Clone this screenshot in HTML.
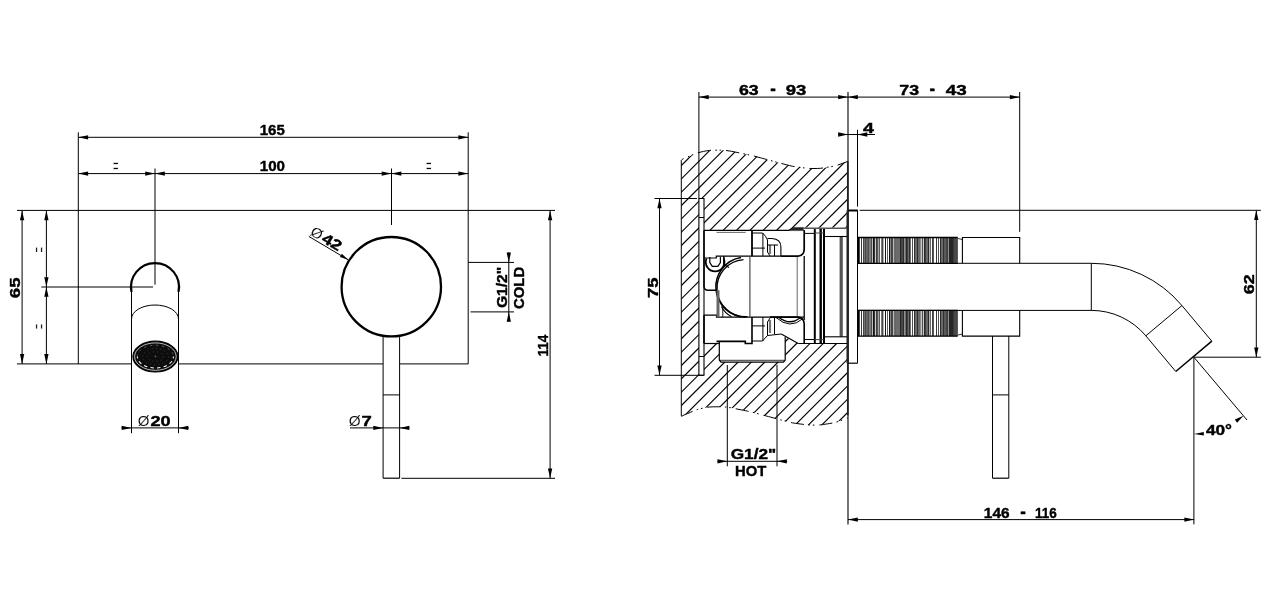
<!DOCTYPE html>
<html lang="en"><head><meta charset="utf-8"><title>Technical drawing</title>
<style>
html,body{margin:0;padding:0;background:#fff;}
body{width:1283px;height:597px;overflow:hidden;}
svg{display:block;will-change:transform;}
svg text{font-family:"Liberation Sans",sans-serif;fill:#000;}
svg .b{stroke:#000;stroke-width:0.4px;stroke-linejoin:round;}
svg .t{stroke:#fff;stroke-width:0.12px;}
svg .e{stroke:#fff;stroke-width:0.45px;}
</style></head><body>
<svg width="1283" height="597" viewBox="0 0 1283 597">
<rect width="1283" height="597" fill="#fff"/>
<line x1="17.00" y1="210.40" x2="555.00" y2="210.40" stroke="#000" stroke-width="1.0" />
<line x1="17.00" y1="363.90" x2="131.50" y2="363.90" stroke="#000" stroke-width="1.0" />
<line x1="178.50" y1="363.90" x2="383.10" y2="363.90" stroke="#000" stroke-width="1.0" />
<line x1="399.60" y1="363.90" x2="468.20" y2="363.90" stroke="#000" stroke-width="1.0" />
<line x1="78.30" y1="132.30" x2="78.30" y2="363.90" stroke="#000" stroke-width="1.0" />
<line x1="468.20" y1="132.30" x2="468.20" y2="363.90" stroke="#000" stroke-width="1.0" />
<line x1="78.30" y1="137.30" x2="468.20" y2="137.30" stroke="#000" stroke-width="1.0" />
<polygon points="78.30,137.30 88.10,135.15 88.10,139.45" fill="#000"/>
<polygon points="468.20,137.30 458.40,139.45 458.40,135.15" fill="#000"/>
<text class="b" x="259.76" y="135.10" font-size="14.5" font-weight="bold" textLength="25.07" lengthAdjust="spacingAndGlyphs">165</text>
<line x1="78.30" y1="173.60" x2="468.20" y2="173.60" stroke="#000" stroke-width="1.0" />
<polygon points="78.30,173.60 88.10,171.45 88.10,175.75" fill="#000"/>
<polygon points="155.00,173.60 145.20,175.75 145.20,171.45" fill="#000"/>
<polygon points="155.00,173.60 164.80,171.45 164.80,175.75" fill="#000"/>
<polygon points="391.50,173.60 381.70,175.75 381.70,171.45" fill="#000"/>
<polygon points="391.50,173.60 401.30,171.45 401.30,175.75" fill="#000"/>
<polygon points="468.20,173.60 458.40,175.75 458.40,171.45" fill="#000"/>
<text class="b" x="259.75" y="171.40" font-size="14.5" font-weight="bold" textLength="25.27" lengthAdjust="spacingAndGlyphs">100</text>
<line x1="155.00" y1="168.50" x2="155.00" y2="284.70" stroke="#000" stroke-width="1.0" />
<line x1="391.50" y1="168.50" x2="391.50" y2="225.00" stroke="#000" stroke-width="1.0" />
<text transform="translate(115.70,166.20) rotate(0)" x="-2.77" y="6.57" font-size="20" class="e" font-weight="normal" fill="#222" textLength="5.54" lengthAdjust="spacingAndGlyphs">=</text>
<text transform="translate(428.80,166.20) rotate(0)" x="-2.77" y="6.57" font-size="20" class="e" font-weight="normal" fill="#222" textLength="5.54" lengthAdjust="spacingAndGlyphs">=</text>
<line x1="22.10" y1="210.40" x2="22.10" y2="363.90" stroke="#000" stroke-width="1.0" />
<polygon points="22.10,210.40 24.25,220.20 19.95,220.20" fill="#000"/>
<polygon points="22.10,363.90 19.95,354.10 24.25,354.10" fill="#000"/>
<line x1="46.40" y1="210.40" x2="46.40" y2="363.90" stroke="#000" stroke-width="1.0" />
<polygon points="46.40,210.40 48.55,220.20 44.25,220.20" fill="#000"/>
<polygon points="46.40,287.00 44.25,277.20 48.55,277.20" fill="#000"/>
<polygon points="46.40,287.00 48.55,296.80 44.25,296.80" fill="#000"/>
<polygon points="46.40,363.90 44.25,354.10 48.55,354.10" fill="#000"/>
<line x1="41.30" y1="287.00" x2="153.00" y2="287.00" stroke="#000" stroke-width="1.0" />
<text transform="translate(39.30,249.70) rotate(-90)" x="-2.77" y="6.57" font-size="20" class="e" font-weight="normal" fill="#222" textLength="5.54" lengthAdjust="spacingAndGlyphs">=</text>
<text transform="translate(39.30,326.60) rotate(-90)" x="-2.77" y="6.57" font-size="20" class="e" font-weight="normal" fill="#222" textLength="5.54" lengthAdjust="spacingAndGlyphs">=</text>
<g transform="translate(20.10,297.50) rotate(-90.00)">
<text class="b" x="-0.70" y="0.00" font-size="14.5" font-weight="bold" textLength="20.65" lengthAdjust="spacingAndGlyphs">65</text>
</g>
<path d="M131.5,291.9 A24,24 0 1 1 178.5,291.9" stroke="#000" stroke-width="2.2" fill="none" />
<line x1="131.50" y1="290.00" x2="131.50" y2="433.20" stroke="#000" stroke-width="1.0" />
<line x1="178.50" y1="290.00" x2="178.50" y2="433.20" stroke="#000" stroke-width="1.0" />
<path d="M131.5,319.0 A23.5,14 0 0 1 178.5,319.0" stroke="#000" stroke-width="1" fill="none" />
<ellipse cx="155.4" cy="356.6" rx="22.5" ry="15.4" fill="#0d0d0d" stroke="#000" stroke-width="1.2"/>
<ellipse cx="155.4" cy="356.6" rx="20.8" ry="13.7" fill="none" stroke="#fff" stroke-width="0.7"/>
<path d="M137.4,356.6 A18,11.4 0 0 0 173.4,356.6" fill="none" stroke="#fff" stroke-width="1.1" stroke-dasharray="3.4 3.2" stroke-dashoffset="1.5"/>
<path d="M137.4,356.6 A18,11.4 0 0 1 173.4,356.6" fill="none" stroke="#777" stroke-width="0.8" stroke-dasharray="2 4"/>
<ellipse cx="155.4" cy="356.6" rx="13" ry="8" fill="none" stroke="#555" stroke-width="0.7" stroke-dasharray="1 3.2"/>
<ellipse cx="155.4" cy="356.6" rx="8" ry="4.8" fill="none" stroke="#555" stroke-width="0.7" stroke-dasharray="1 3"/>
<circle cx="155.4" cy="356.3" r="0.9" fill="#666"/>
<line x1="121.40" y1="427.90" x2="188.90" y2="427.90" stroke="#000" stroke-width="1.0" />
<polygon points="131.50,427.90 121.70,430.05 121.70,425.75" fill="#000"/>
<polygon points="178.50,427.90 188.30,425.75 188.30,430.05" fill="#000"/>
<text xml:space="preserve"><tspan class="t" x="137.74" y="425.90" font-size="14.5" font-weight="normal" textLength="11.70" lengthAdjust="spacingAndGlyphs">Ø</tspan><tspan class="b" x="150.46" y="425.80" font-size="14.5" font-weight="bold" textLength="20.20" lengthAdjust="spacingAndGlyphs">20</tspan></text>
<circle cx="391.3" cy="286.7" r="49.7" fill="none" stroke="#000" stroke-width="2.3"/>
<line x1="383.10" y1="336.50" x2="383.10" y2="478.20" stroke="#000" stroke-width="1.0" />
<line x1="399.60" y1="336.50" x2="399.60" y2="478.20" stroke="#000" stroke-width="1.0" />
<line x1="383.10" y1="478.20" x2="399.60" y2="478.20" stroke="#000" stroke-width="1.2" />
<line x1="383.10" y1="394.90" x2="399.60" y2="394.90" stroke="#000" stroke-width="1.0" />
<line x1="308.80" y1="236.40" x2="348.20" y2="259.80" stroke="#000" stroke-width="1.0" />
<polygon points="348.20,259.80 339.92,257.09 341.86,253.83" fill="#000"/>
<g transform="translate(308.80,236.40) rotate(30.71)">
<text xml:space="preserve"><tspan class="t" x="-0.56" y="-1.90" font-size="14.5" font-weight="normal" textLength="11.70" lengthAdjust="spacingAndGlyphs">Ø</tspan><tspan class="b" x="12.73" y="-2.00" font-size="14.5" font-weight="bold" textLength="20.35" lengthAdjust="spacingAndGlyphs">42</tspan></text>
</g>
<line x1="350.00" y1="427.90" x2="409.30" y2="427.90" stroke="#000" stroke-width="1.0" />
<polygon points="383.10,427.90 373.30,430.05 373.30,425.75" fill="#000"/>
<polygon points="399.60,427.90 409.40,425.75 409.40,430.05" fill="#000"/>
<text xml:space="preserve"><tspan class="t" x="348.73" y="425.90" font-size="14.5" font-weight="normal" textLength="11.92" lengthAdjust="spacingAndGlyphs">Ø</tspan><tspan class="b" x="361.61" y="425.80" font-size="14.5" font-weight="bold" textLength="10.30" lengthAdjust="spacingAndGlyphs">7</tspan></text>
<line x1="468.20" y1="262.40" x2="514.00" y2="262.40" stroke="#000" stroke-width="1.0" />
<line x1="470.50" y1="311.90" x2="514.00" y2="311.90" stroke="#000" stroke-width="1.0" />
<line x1="508.80" y1="252.40" x2="508.80" y2="321.70" stroke="#000" stroke-width="1.0" />
<polygon points="508.80,262.40 506.65,252.60 510.95,252.60" fill="#000"/>
<polygon points="508.80,311.90 510.95,321.70 506.65,321.70" fill="#000"/>
<g transform="translate(506.90,307.50) rotate(-90.00)">
<text class="b" x="-0.62" y="0.00" font-size="14.5" font-weight="bold" textLength="41.27" lengthAdjust="spacingAndGlyphs">G1/2"</text>
</g>
<g transform="translate(523.70,308.40) rotate(-90.00)">
<text class="b" x="-0.59" y="0.00" font-size="14.5" font-weight="bold" textLength="42.14" lengthAdjust="spacingAndGlyphs">COLD</text>
</g>
<line x1="550.10" y1="210.40" x2="550.10" y2="478.30" stroke="#000" stroke-width="1.0" />
<polygon points="550.10,210.40 552.25,220.20 547.95,220.20" fill="#000"/>
<polygon points="550.10,478.30 547.95,468.50 552.25,468.50" fill="#000"/>
<line x1="401.40" y1="478.30" x2="555.00" y2="478.30" stroke="#000" stroke-width="1.0" />
<g transform="translate(548.00,354.50) rotate(-90.00)">
<text class="b" x="-2.06" y="0.00" font-size="14.5" font-weight="bold" textLength="21.76" lengthAdjust="spacingAndGlyphs">114</text>
</g>
<defs><clipPath id="hc"><path clip-rule="evenodd" d="M681.3,160.3 C681.58,160.07 681.72,159.55 683.00,158.90 C684.28,158.25 687.47,157.07 689.00,156.40 C690.53,155.73 690.78,155.48 692.20,154.90 C693.62,154.32 695.62,153.48 697.50,152.90 C699.38,152.32 701.45,151.82 703.50,151.40 C705.55,150.98 707.75,150.60 709.80,150.40 C711.85,150.20 714.05,150.23 715.80,150.20 C717.55,150.17 718.72,150.17 720.30,150.20 C721.88,150.23 723.43,150.22 725.30,150.40 C727.17,150.58 729.40,150.93 731.50,151.30 C733.60,151.67 735.88,152.20 737.90,152.60 C739.92,153.00 742.02,153.38 743.60,153.70 C745.18,154.02 745.93,154.18 747.40,154.50 C748.87,154.82 750.47,155.12 752.40,155.60 C754.33,156.08 756.68,156.77 759.00,157.40 C761.32,158.03 764.37,158.88 766.30,159.40 C768.23,159.92 769.18,160.12 770.60,160.50 C772.02,160.88 773.28,161.28 774.80,161.70 C776.32,162.12 777.83,162.50 779.70,163.00 C781.57,163.50 783.83,164.15 786.00,164.70 C788.17,165.25 790.70,165.90 792.70,166.30 C794.70,166.70 796.42,166.88 798.00,167.10 C799.58,167.32 800.67,167.40 802.20,167.60 C803.73,167.80 805.23,168.15 807.20,168.30 C809.17,168.45 811.78,168.50 814.00,168.50 C816.22,168.50 818.53,168.47 820.50,168.30 C822.47,168.13 824.27,167.73 825.80,167.50 C827.33,167.27 828.17,167.17 829.70,166.90 C831.23,166.63 833.12,166.40 835.00,165.90 C836.88,165.40 838.83,164.67 841.00,163.90 C843.17,163.13 846.83,161.73 848.00,161.30 L848.0,417.90000000000003 C846.83,418.33 843.17,419.73 841.00,420.50 C838.83,421.27 836.88,422.00 835.00,422.50 C833.12,423.00 831.23,423.23 829.70,423.50 C828.17,423.77 827.33,423.87 825.80,424.10 C824.27,424.33 822.47,424.73 820.50,424.90 C818.53,425.07 816.22,425.10 814.00,425.10 C811.78,425.10 809.17,425.05 807.20,424.90 C805.23,424.75 803.73,424.40 802.20,424.20 C800.67,424.00 799.58,423.92 798.00,423.70 C796.42,423.48 794.70,423.30 792.70,422.90 C790.70,422.50 788.17,421.85 786.00,421.30 C783.83,420.75 781.57,420.10 779.70,419.60 C777.83,419.10 776.32,418.72 774.80,418.30 C773.28,417.88 772.02,417.48 770.60,417.10 C769.18,416.72 768.23,416.52 766.30,416.00 C764.37,415.48 761.32,414.63 759.00,414.00 C756.68,413.37 754.33,412.68 752.40,412.20 C750.47,411.72 748.87,411.42 747.40,411.10 C745.93,410.78 745.18,410.62 743.60,410.30 C742.02,409.98 739.92,409.60 737.90,409.20 C735.88,408.80 733.60,408.27 731.50,407.90 C729.40,407.53 727.17,407.18 725.30,407.00 C723.43,406.82 721.88,406.83 720.30,406.80 C718.72,406.77 717.55,406.77 715.80,406.80 C714.05,406.83 711.85,406.80 709.80,407.00 C707.75,407.20 705.55,407.58 703.50,408.00 C701.45,408.42 699.38,408.92 697.50,409.50 C695.62,410.08 693.62,410.92 692.20,411.50 C690.78,412.08 690.53,412.33 689.00,413.00 C687.47,413.67 684.28,414.85 683.00,415.50 C681.72,416.15 681.58,416.67 681.30,416.90 Z M698.9,198.5 L704.0,198.5 L704.0,230.4 L789,230.4 L793.3,227.7 L847,227.7 L847,343.5 L798.2,343.5 L785.2,337 L785.2,362.1 L719.3,362.1 L719.3,343.5 L704.0,343.5 L704.0,375.3 L698.9,375.3 Z"/></clipPath></defs>
<g clip-path="url(#hc)" stroke="#000" stroke-width="1.15">
<line x1="398.56" y1="435" x2="693.56" y2="140"/>
<line x1="411.89" y1="435" x2="706.89" y2="140"/>
<line x1="425.22" y1="435" x2="720.22" y2="140"/>
<line x1="438.55" y1="435" x2="733.55" y2="140"/>
<line x1="451.88" y1="435" x2="746.88" y2="140"/>
<line x1="465.21" y1="435" x2="760.21" y2="140"/>
<line x1="478.54" y1="435" x2="773.54" y2="140"/>
<line x1="491.87" y1="435" x2="786.87" y2="140"/>
<line x1="505.20" y1="435" x2="800.20" y2="140"/>
<line x1="518.53" y1="435" x2="813.53" y2="140"/>
<line x1="531.86" y1="435" x2="826.86" y2="140"/>
<line x1="545.19" y1="435" x2="840.19" y2="140"/>
<line x1="558.52" y1="435" x2="853.52" y2="140"/>
<line x1="571.85" y1="435" x2="866.85" y2="140"/>
<line x1="585.18" y1="435" x2="880.18" y2="140"/>
<line x1="598.51" y1="435" x2="893.51" y2="140"/>
<line x1="611.84" y1="435" x2="906.84" y2="140"/>
<line x1="625.17" y1="435" x2="920.17" y2="140"/>
<line x1="638.50" y1="435" x2="933.50" y2="140"/>
<line x1="651.83" y1="435" x2="946.83" y2="140"/>
<line x1="665.16" y1="435" x2="960.16" y2="140"/>
<line x1="678.49" y1="435" x2="973.49" y2="140"/>
<line x1="691.82" y1="435" x2="986.82" y2="140"/>
<line x1="705.15" y1="435" x2="1000.15" y2="140"/>
<line x1="718.48" y1="435" x2="1013.48" y2="140"/>
<line x1="731.81" y1="435" x2="1026.81" y2="140"/>
<line x1="745.14" y1="435" x2="1040.14" y2="140"/>
<line x1="758.47" y1="435" x2="1053.47" y2="140"/>
<line x1="771.80" y1="435" x2="1066.80" y2="140"/>
<line x1="785.13" y1="435" x2="1080.13" y2="140"/>
<line x1="798.46" y1="435" x2="1093.46" y2="140"/>
<line x1="811.79" y1="435" x2="1106.79" y2="140"/>
<line x1="825.12" y1="435" x2="1120.12" y2="140"/>
<line x1="838.45" y1="435" x2="1133.45" y2="140"/>
</g>
<path d="M681.3,160.3 C681.58,160.07 681.72,159.55 683.00,158.90 C684.28,158.25 687.47,157.07 689.00,156.40 C690.53,155.73 690.78,155.48 692.20,154.90 C693.62,154.32 695.62,153.48 697.50,152.90 C699.38,152.32 701.45,151.82 703.50,151.40 C705.55,150.98 707.75,150.60 709.80,150.40 C711.85,150.20 714.05,150.23 715.80,150.20 C717.55,150.17 718.72,150.17 720.30,150.20 C721.88,150.23 723.43,150.22 725.30,150.40 C727.17,150.58 729.40,150.93 731.50,151.30 C733.60,151.67 735.88,152.20 737.90,152.60 C739.92,153.00 742.02,153.38 743.60,153.70 C745.18,154.02 745.93,154.18 747.40,154.50 C748.87,154.82 750.47,155.12 752.40,155.60 C754.33,156.08 756.68,156.77 759.00,157.40 C761.32,158.03 764.37,158.88 766.30,159.40 C768.23,159.92 769.18,160.12 770.60,160.50 C772.02,160.88 773.28,161.28 774.80,161.70 C776.32,162.12 777.83,162.50 779.70,163.00 C781.57,163.50 783.83,164.15 786.00,164.70 C788.17,165.25 790.70,165.90 792.70,166.30 C794.70,166.70 796.42,166.88 798.00,167.10 C799.58,167.32 800.67,167.40 802.20,167.60 C803.73,167.80 805.23,168.15 807.20,168.30 C809.17,168.45 811.78,168.50 814.00,168.50 C816.22,168.50 818.53,168.47 820.50,168.30 C822.47,168.13 824.27,167.73 825.80,167.50 C827.33,167.27 828.17,167.17 829.70,166.90 C831.23,166.63 833.12,166.40 835.00,165.90 C836.88,165.40 838.83,164.67 841.00,163.90 C843.17,163.13 846.83,161.73 848.00,161.30" stroke="#000" stroke-width="1.0" fill="none" stroke-dasharray="13.3 4.3 1.6 2.8 1.6 4.9" stroke-dashoffset="10.2"/>
<path d="M681.3,416.90000000000003 C681.58,416.67 681.72,416.15 683.00,415.50 C684.28,414.85 687.47,413.67 689.00,413.00 C690.53,412.33 690.78,412.08 692.20,411.50 C693.62,410.92 695.62,410.08 697.50,409.50 C699.38,408.92 701.45,408.42 703.50,408.00 C705.55,407.58 707.75,407.20 709.80,407.00 C711.85,406.80 714.05,406.83 715.80,406.80 C717.55,406.77 718.72,406.77 720.30,406.80 C721.88,406.83 723.43,406.82 725.30,407.00 C727.17,407.18 729.40,407.53 731.50,407.90 C733.60,408.27 735.88,408.80 737.90,409.20 C739.92,409.60 742.02,409.98 743.60,410.30 C745.18,410.62 745.93,410.78 747.40,411.10 C748.87,411.42 750.47,411.72 752.40,412.20 C754.33,412.68 756.68,413.37 759.00,414.00 C761.32,414.63 764.37,415.48 766.30,416.00 C768.23,416.52 769.18,416.72 770.60,417.10 C772.02,417.48 773.28,417.88 774.80,418.30 C776.32,418.72 777.83,419.10 779.70,419.60 C781.57,420.10 783.83,420.75 786.00,421.30 C788.17,421.85 790.70,422.50 792.70,422.90 C794.70,423.30 796.42,423.48 798.00,423.70 C799.58,423.92 800.67,424.00 802.20,424.20 C803.73,424.40 805.23,424.75 807.20,424.90 C809.17,425.05 811.78,425.10 814.00,425.10 C816.22,425.10 818.53,425.07 820.50,424.90 C822.47,424.73 824.27,424.33 825.80,424.10 C827.33,423.87 828.17,423.77 829.70,423.50 C831.23,423.23 833.12,423.00 835.00,422.50 C836.88,422.00 838.83,421.27 841.00,420.50 C843.17,419.73 846.83,418.33 848.00,417.90" stroke="#000" stroke-width="1.0" fill="none" stroke-dasharray="13.3 4.3 1.6 2.8 1.6 4.9" stroke-dashoffset="0.5"/>
<line x1="681.30" y1="160.30" x2="681.30" y2="416.00" stroke="#000" stroke-width="1.0" />
<line x1="698.90" y1="92.00" x2="698.90" y2="198.50" stroke="#000" stroke-width="1.0" />
<line x1="848.00" y1="92.00" x2="848.00" y2="524.40" stroke="#000" stroke-width="1.1" />
<line x1="847.70" y1="210.40" x2="847.70" y2="363.20" stroke="#222" stroke-width="2.4" />
<line x1="847.80" y1="161.30" x2="847.80" y2="210.40" stroke="#222" stroke-width="1.7" />
<line x1="847.80" y1="363.20" x2="847.80" y2="415.30" stroke="#222" stroke-width="1.7" />
<line x1="698.90" y1="97.10" x2="1019.70" y2="97.10" stroke="#000" stroke-width="1.0" />
<polygon points="698.90,97.10 708.70,94.95 708.70,99.25" fill="#000"/>
<polygon points="848.00,97.10 838.20,99.25 838.20,94.95" fill="#000"/>
<polygon points="848.00,97.10 857.80,94.95 857.80,99.25" fill="#000"/>
<polygon points="1019.70,97.10 1009.90,99.25 1009.90,94.95" fill="#000"/>
<text xml:space="preserve"><tspan class="b" x="739.03" y="94.90" font-size="14.5" font-weight="bold" textLength="19.73" lengthAdjust="spacingAndGlyphs">63</tspan> <tspan class="b" x="770.27" y="95.00" font-size="18" font-weight="bold" textLength="5.57" lengthAdjust="spacingAndGlyphs">-</tspan> <tspan class="b" x="785.65" y="94.90" font-size="14.5" font-weight="bold" textLength="20.64" lengthAdjust="spacingAndGlyphs">93</tspan></text>
<text xml:space="preserve"><tspan class="b" x="899.24" y="95.00" font-size="14.5" font-weight="bold" textLength="19.82" lengthAdjust="spacingAndGlyphs">73</tspan> <tspan class="b" x="929.42" y="95.00" font-size="18" font-weight="bold" textLength="5.57" lengthAdjust="spacingAndGlyphs">-</tspan> <tspan class="b" x="945.72" y="95.00" font-size="14.5" font-weight="bold" textLength="20.99" lengthAdjust="spacingAndGlyphs">43</tspan></text>
<line x1="1019.70" y1="92.00" x2="1019.70" y2="231.80" stroke="#000" stroke-width="1.0" />
<line x1="838.00" y1="134.50" x2="875.00" y2="134.50" stroke="#000" stroke-width="1.0" />
<polygon points="848.00,134.50 838.20,136.65 838.20,132.35" fill="#000"/>
<polygon points="857.50,134.50 867.30,132.35 867.30,136.65" fill="#000"/>
<text class="b" x="863.11" y="132.90" font-size="14.5" font-weight="bold" textLength="10.92" lengthAdjust="spacingAndGlyphs">4</text>
<line x1="857.50" y1="129.80" x2="857.50" y2="206.60" stroke="#000" stroke-width="1.0" />
<line x1="857.50" y1="210.40" x2="857.50" y2="363.20" stroke="#000" stroke-width="1.0" />
<line x1="848.00" y1="210.50" x2="857.90" y2="210.50" stroke="#000" stroke-width="2.0" />
<line x1="848.00" y1="363.20" x2="857.50" y2="363.20" stroke="#000" stroke-width="1.2" />
<line x1="859.60" y1="210.30" x2="1260.90" y2="210.30" stroke="#000" stroke-width="1.0" />
<line x1="1256.30" y1="210.30" x2="1256.30" y2="357.20" stroke="#000" stroke-width="1.0" />
<polygon points="1256.30,210.30 1258.45,220.10 1254.15,220.10" fill="#000"/>
<polygon points="1256.30,357.20 1254.15,347.40 1258.45,347.40" fill="#000"/>
<line x1="1193.90" y1="357.20" x2="1260.90" y2="357.20" stroke="#000" stroke-width="1.0" />
<g transform="translate(1254.10,293.50) rotate(-90.00)">
<text class="b" x="-0.68" y="0.00" font-size="14.5" font-weight="bold" textLength="20.04" lengthAdjust="spacingAndGlyphs">62</text>
</g>
<line x1="857.50" y1="263.30" x2="1091.30" y2="263.30" stroke="#000" stroke-width="1.0" />
<line x1="857.50" y1="310.40" x2="1091.30" y2="310.40" stroke="#000" stroke-width="1.0" />
<line x1="1091.30" y1="263.30" x2="1091.30" y2="310.40" stroke="#000" stroke-width="1.0" />
<path d="M1091.3,263.3 A118.3,118.3 0 0 1 1181.92,305.56" stroke="#000" stroke-width="1.0" fill="none" />
<path d="M1091.3,310.4 A71.2,71.2 0 0 1 1145.84,335.83" stroke="#000" stroke-width="1.0" fill="none" />
<line x1="1145.84" y1="335.83" x2="1181.92" y2="305.56" stroke="#000" stroke-width="1.0" />
<line x1="1181.92" y1="305.56" x2="1211.81" y2="341.18" stroke="#000" stroke-width="1.0" />
<line x1="1145.84" y1="335.83" x2="1175.73" y2="371.45" stroke="#000" stroke-width="1.0" />
<line x1="1211.81" y1="341.18" x2="1175.73" y2="371.45" stroke="#000" stroke-width="1.5" />
<line x1="1193.90" y1="357.20" x2="1193.90" y2="524.40" stroke="#000" stroke-width="1.0" />
<line x1="1193.90" y1="357.20" x2="1247.00" y2="420.00" stroke="#000" stroke-width="1.0" />
<polygon points="1193.9,434.0 1203.8,432.0 1203.8,435.6" fill="#000"/>
<polygon points="1243.50,415.80 1237.05,422.63 1234.87,419.52" fill="#000"/>
<text class="b" x="1205.94" y="434.60" font-size="14.5" font-weight="bold" textLength="26.09" lengthAdjust="spacingAndGlyphs">40°</text>
<rect x="857.5" y="237.5" width="100.2" height="25.80000000000001" fill="#444"/>
<rect x="857.14" y="237.5" width="2.41" height="25.80000000000001" fill="#000"/>
<rect x="859.83" y="237.5" width="1.34" height="25.80000000000001" fill="#fff"/>
<rect x="861.17" y="237.5" width="0.80" height="25.80000000000001" fill="#262626"/>
<rect x="861.97" y="237.5" width="1.07" height="25.80000000000001" fill="#fff"/>
<rect x="863.04" y="237.5" width="0.80" height="25.80000000000001" fill="#3a3a3a"/>
<rect x="863.85" y="237.5" width="1.07" height="25.80000000000001" fill="#7c7c7c"/>
<rect x="864.92" y="237.5" width="0.80" height="25.80000000000001" fill="#3a3a3a"/>
<rect x="865.72" y="237.5" width="2.14" height="25.80000000000001" fill="#6a6a6a"/>
<rect x="867.87" y="237.5" width="0.80" height="25.80000000000001" fill="#3a3a3a"/>
<rect x="868.67" y="237.5" width="2.41" height="25.80000000000001" fill="#7c7c7c"/>
<rect x="871.09" y="237.5" width="0.80" height="25.80000000000001" fill="#3a3a3a"/>
<rect x="871.89" y="237.5" width="1.07" height="25.80000000000001" fill="#ccc"/>
<rect x="872.96" y="237.5" width="1.88" height="25.80000000000001" fill="#111"/>
<rect x="874.84" y="237.5" width="1.34" height="25.80000000000001" fill="#ccc"/>
<rect x="876.18" y="237.5" width="1.61" height="25.80000000000001" fill="#3a3a3a"/>
<rect x="877.79" y="237.5" width="1.07" height="25.80000000000001" fill="#ccc"/>
<rect x="878.86" y="237.5" width="0.91" height="25.80000000000001" fill="#262626"/>
<rect x="879.77" y="237.5" width="1.77" height="25.80000000000001" fill="#fff"/>
<rect x="881.54" y="237.5" width="1.88" height="25.80000000000001" fill="#484848"/>
<rect x="883.42" y="237.5" width="1.61" height="25.80000000000001" fill="#fff"/>
<rect x="885.03" y="237.5" width="0.97" height="25.80000000000001" fill="#111"/>
<rect x="885.99" y="237.5" width="1.18" height="25.80000000000001" fill="#fff"/>
<rect x="887.17" y="237.5" width="0.64" height="25.80000000000001" fill="#262626"/>
<rect x="887.82" y="237.5" width="1.23" height="25.80000000000001" fill="#fff"/>
<rect x="889.05" y="237.5" width="1.07" height="25.80000000000001" fill="#111"/>
<rect x="890.12" y="237.5" width="1.34" height="25.80000000000001" fill="#909090"/>
<rect x="891.46" y="237.5" width="1.34" height="25.80000000000001" fill="#262626"/>
<rect x="892.80" y="237.5" width="1.61" height="25.80000000000001" fill="#bbb"/>
<rect x="894.41" y="237.5" width="1.34" height="25.80000000000001" fill="#6a6a6a"/>
<rect x="895.75" y="237.5" width="4.29" height="25.80000000000001" fill="#6c6c6c"/>
<rect x="900.04" y="237.5" width="1.07" height="25.80000000000001" fill="#262626"/>
<rect x="901.11" y="237.5" width="2.14" height="25.80000000000001" fill="#484848"/>
<rect x="903.26" y="237.5" width="1.07" height="25.80000000000001" fill="#262626"/>
<rect x="904.33" y="237.5" width="1.34" height="25.80000000000001" fill="#bbb"/>
<rect x="905.67" y="237.5" width="2.14" height="25.80000000000001" fill="#262626"/>
<rect x="907.82" y="237.5" width="1.34" height="25.80000000000001" fill="#aaa"/>
<rect x="909.16" y="237.5" width="0.86" height="25.80000000000001" fill="#262626"/>
<rect x="908.00" y="237.5" width="1.34" height="25.80000000000001" fill="#6a6a6a"/>
<rect x="909.34" y="237.5" width="1.34" height="25.80000000000001" fill="#262626"/>
<rect x="910.68" y="237.5" width="1.34" height="25.80000000000001" fill="#fff"/>
<rect x="912.02" y="237.5" width="0.80" height="25.80000000000001" fill="#262626"/>
<rect x="912.83" y="237.5" width="1.34" height="25.80000000000001" fill="#fff"/>
<rect x="914.17" y="237.5" width="0.80" height="25.80000000000001" fill="#262626"/>
<rect x="914.97" y="237.5" width="2.14" height="25.80000000000001" fill="#6a6a6a"/>
<rect x="917.12" y="237.5" width="0.80" height="25.80000000000001" fill="#262626"/>
<rect x="917.92" y="237.5" width="2.68" height="25.80000000000001" fill="#6a6a6a"/>
<rect x="920.60" y="237.5" width="1.34" height="25.80000000000001" fill="#ddd"/>
<rect x="921.94" y="237.5" width="0.80" height="25.80000000000001" fill="#262626"/>
<rect x="922.75" y="237.5" width="1.34" height="25.80000000000001" fill="#ccc"/>
<rect x="924.09" y="237.5" width="1.61" height="25.80000000000001" fill="#262626"/>
<rect x="925.69" y="237.5" width="2.41" height="25.80000000000001" fill="#6a6a6a"/>
<rect x="928.11" y="237.5" width="0.91" height="25.80000000000001" fill="#262626"/>
<rect x="929.02" y="237.5" width="1.23" height="25.80000000000001" fill="#bbb"/>
<rect x="930.25" y="237.5" width="0.54" height="25.80000000000001" fill="#262626"/>
<rect x="930.79" y="237.5" width="1.61" height="25.80000000000001" fill="#fff"/>
<rect x="932.40" y="237.5" width="1.34" height="25.80000000000001" fill="#111"/>
<rect x="933.74" y="237.5" width="2.41" height="25.80000000000001" fill="#fff"/>
<rect x="936.15" y="237.5" width="0.80" height="25.80000000000001" fill="#262626"/>
<rect x="936.95" y="237.5" width="1.07" height="25.80000000000001" fill="#fff"/>
<rect x="938.03" y="237.5" width="0.80" height="25.80000000000001" fill="#262626"/>
<rect x="938.83" y="237.5" width="1.23" height="25.80000000000001" fill="#fff"/>
<rect x="940.06" y="237.5" width="0.91" height="25.80000000000001" fill="#262626"/>
<rect x="940.98" y="237.5" width="2.14" height="25.80000000000001" fill="#6a6a6a"/>
<rect x="943.12" y="237.5" width="0.80" height="25.80000000000001" fill="#262626"/>
<rect x="943.92" y="237.5" width="2.68" height="25.80000000000001" fill="#5a5a5a"/>
<rect x="946.61" y="237.5" width="1.34" height="25.80000000000001" fill="#3a3a3a"/>
<rect x="947.95" y="237.5" width="1.07" height="25.80000000000001" fill="#909090"/>
<rect x="949.02" y="237.5" width="4.56" height="25.80000000000001" fill="#262626"/>
<rect x="953.58" y="237.5" width="4.02" height="25.80000000000001" fill="#484848"/>
<line x1="857.50" y1="237.50" x2="957.70" y2="237.50" stroke="#000" stroke-width="1.3" />
<line x1="857.50" y1="263.30" x2="957.70" y2="263.30" stroke="#000" stroke-width="1.3" />
<rect x="857.5" y="310.4" width="100.2" height="25.700000000000045" fill="#444"/>
<rect x="857.14" y="310.4" width="2.41" height="25.700000000000045" fill="#000"/>
<rect x="859.83" y="310.4" width="1.34" height="25.700000000000045" fill="#fff"/>
<rect x="861.17" y="310.4" width="0.80" height="25.700000000000045" fill="#262626"/>
<rect x="861.97" y="310.4" width="1.07" height="25.700000000000045" fill="#fff"/>
<rect x="863.04" y="310.4" width="0.80" height="25.700000000000045" fill="#3a3a3a"/>
<rect x="863.85" y="310.4" width="1.07" height="25.700000000000045" fill="#7c7c7c"/>
<rect x="864.92" y="310.4" width="0.80" height="25.700000000000045" fill="#3a3a3a"/>
<rect x="865.72" y="310.4" width="2.14" height="25.700000000000045" fill="#6a6a6a"/>
<rect x="867.87" y="310.4" width="0.80" height="25.700000000000045" fill="#3a3a3a"/>
<rect x="868.67" y="310.4" width="2.41" height="25.700000000000045" fill="#7c7c7c"/>
<rect x="871.09" y="310.4" width="0.80" height="25.700000000000045" fill="#3a3a3a"/>
<rect x="871.89" y="310.4" width="1.07" height="25.700000000000045" fill="#ccc"/>
<rect x="872.96" y="310.4" width="1.88" height="25.700000000000045" fill="#111"/>
<rect x="874.84" y="310.4" width="1.34" height="25.700000000000045" fill="#ccc"/>
<rect x="876.18" y="310.4" width="1.61" height="25.700000000000045" fill="#3a3a3a"/>
<rect x="877.79" y="310.4" width="1.07" height="25.700000000000045" fill="#ccc"/>
<rect x="878.86" y="310.4" width="0.91" height="25.700000000000045" fill="#262626"/>
<rect x="879.77" y="310.4" width="1.77" height="25.700000000000045" fill="#fff"/>
<rect x="881.54" y="310.4" width="1.88" height="25.700000000000045" fill="#484848"/>
<rect x="883.42" y="310.4" width="1.61" height="25.700000000000045" fill="#fff"/>
<rect x="885.03" y="310.4" width="0.97" height="25.700000000000045" fill="#111"/>
<rect x="885.99" y="310.4" width="1.18" height="25.700000000000045" fill="#fff"/>
<rect x="887.17" y="310.4" width="0.64" height="25.700000000000045" fill="#262626"/>
<rect x="887.82" y="310.4" width="1.23" height="25.700000000000045" fill="#fff"/>
<rect x="889.05" y="310.4" width="1.07" height="25.700000000000045" fill="#111"/>
<rect x="890.12" y="310.4" width="1.34" height="25.700000000000045" fill="#909090"/>
<rect x="891.46" y="310.4" width="1.34" height="25.700000000000045" fill="#262626"/>
<rect x="892.80" y="310.4" width="1.61" height="25.700000000000045" fill="#bbb"/>
<rect x="894.41" y="310.4" width="1.34" height="25.700000000000045" fill="#6a6a6a"/>
<rect x="895.75" y="310.4" width="4.29" height="25.700000000000045" fill="#6c6c6c"/>
<rect x="900.04" y="310.4" width="1.07" height="25.700000000000045" fill="#262626"/>
<rect x="901.11" y="310.4" width="2.14" height="25.700000000000045" fill="#484848"/>
<rect x="903.26" y="310.4" width="1.07" height="25.700000000000045" fill="#262626"/>
<rect x="904.33" y="310.4" width="1.34" height="25.700000000000045" fill="#bbb"/>
<rect x="905.67" y="310.4" width="2.14" height="25.700000000000045" fill="#262626"/>
<rect x="907.82" y="310.4" width="1.34" height="25.700000000000045" fill="#aaa"/>
<rect x="909.16" y="310.4" width="0.86" height="25.700000000000045" fill="#262626"/>
<rect x="908.00" y="310.4" width="1.34" height="25.700000000000045" fill="#6a6a6a"/>
<rect x="909.34" y="310.4" width="1.34" height="25.700000000000045" fill="#262626"/>
<rect x="910.68" y="310.4" width="1.34" height="25.700000000000045" fill="#fff"/>
<rect x="912.02" y="310.4" width="0.80" height="25.700000000000045" fill="#262626"/>
<rect x="912.83" y="310.4" width="1.34" height="25.700000000000045" fill="#fff"/>
<rect x="914.17" y="310.4" width="0.80" height="25.700000000000045" fill="#262626"/>
<rect x="914.97" y="310.4" width="2.14" height="25.700000000000045" fill="#6a6a6a"/>
<rect x="917.12" y="310.4" width="0.80" height="25.700000000000045" fill="#262626"/>
<rect x="917.92" y="310.4" width="2.68" height="25.700000000000045" fill="#6a6a6a"/>
<rect x="920.60" y="310.4" width="1.34" height="25.700000000000045" fill="#ddd"/>
<rect x="921.94" y="310.4" width="0.80" height="25.700000000000045" fill="#262626"/>
<rect x="922.75" y="310.4" width="1.34" height="25.700000000000045" fill="#ccc"/>
<rect x="924.09" y="310.4" width="1.61" height="25.700000000000045" fill="#262626"/>
<rect x="925.69" y="310.4" width="2.41" height="25.700000000000045" fill="#6a6a6a"/>
<rect x="928.11" y="310.4" width="0.91" height="25.700000000000045" fill="#262626"/>
<rect x="929.02" y="310.4" width="1.23" height="25.700000000000045" fill="#bbb"/>
<rect x="930.25" y="310.4" width="0.54" height="25.700000000000045" fill="#262626"/>
<rect x="930.79" y="310.4" width="1.61" height="25.700000000000045" fill="#fff"/>
<rect x="932.40" y="310.4" width="1.34" height="25.700000000000045" fill="#111"/>
<rect x="933.74" y="310.4" width="2.41" height="25.700000000000045" fill="#fff"/>
<rect x="936.15" y="310.4" width="0.80" height="25.700000000000045" fill="#262626"/>
<rect x="936.95" y="310.4" width="1.07" height="25.700000000000045" fill="#fff"/>
<rect x="938.03" y="310.4" width="0.80" height="25.700000000000045" fill="#262626"/>
<rect x="938.83" y="310.4" width="1.23" height="25.700000000000045" fill="#fff"/>
<rect x="940.06" y="310.4" width="0.91" height="25.700000000000045" fill="#262626"/>
<rect x="940.98" y="310.4" width="2.14" height="25.700000000000045" fill="#6a6a6a"/>
<rect x="943.12" y="310.4" width="0.80" height="25.700000000000045" fill="#262626"/>
<rect x="943.92" y="310.4" width="2.68" height="25.700000000000045" fill="#5a5a5a"/>
<rect x="946.61" y="310.4" width="1.34" height="25.700000000000045" fill="#3a3a3a"/>
<rect x="947.95" y="310.4" width="1.07" height="25.700000000000045" fill="#909090"/>
<rect x="949.02" y="310.4" width="4.56" height="25.700000000000045" fill="#262626"/>
<rect x="953.58" y="310.4" width="4.02" height="25.700000000000045" fill="#484848"/>
<line x1="857.50" y1="310.40" x2="957.70" y2="310.40" stroke="#000" stroke-width="1.3" />
<line x1="857.50" y1="336.10" x2="957.70" y2="336.10" stroke="#000" stroke-width="1.3" />
<path d="M958.00,238.50 L962.40,239.50" stroke="#000" stroke-width="0.8" fill="none" />
<path d="M962.40,263.30 L962.40,237.50 L1019.70,237.50 L1019.70,263.30" stroke="#000" stroke-width="1.1" fill="none" />
<path d="M962.40,310.40 L962.40,336.10 L1019.70,336.10 L1019.70,310.40" stroke="#000" stroke-width="1.1" fill="none" />
<path d="M958.00,335.00 L962.40,334.00" stroke="#000" stroke-width="0.8" fill="none" />
<line x1="992.50" y1="336.10" x2="992.50" y2="478.20" stroke="#000" stroke-width="1.0" />
<line x1="1008.80" y1="336.10" x2="1008.80" y2="478.20" stroke="#000" stroke-width="1.0" />
<line x1="992.50" y1="478.20" x2="1008.80" y2="478.20" stroke="#000" stroke-width="1.2" />
<line x1="992.50" y1="394.90" x2="1008.80" y2="394.90" stroke="#000" stroke-width="1.0" />
<line x1="848.00" y1="519.60" x2="1194.20" y2="519.60" stroke="#000" stroke-width="1.0" />
<polygon points="848.00,519.60 857.80,517.45 857.80,521.75" fill="#000"/>
<polygon points="1194.20,519.60 1184.40,521.75 1184.40,517.45" fill="#000"/>
<text xml:space="preserve"><tspan class="b" x="983.84" y="517.80" font-size="14.5" font-weight="bold" textLength="25.72" lengthAdjust="spacingAndGlyphs">146</tspan> <tspan class="b" x="1020.27" y="517.80" font-size="18" font-weight="bold" textLength="5.57" lengthAdjust="spacingAndGlyphs">-</tspan> <tspan class="b" x="1034.94" y="517.80" font-size="14.5" font-weight="bold" textLength="21.76" lengthAdjust="spacingAndGlyphs">116</tspan></text>
<line x1="654.50" y1="198.50" x2="697.00" y2="198.50" stroke="#000" stroke-width="1.0" />
<line x1="654.50" y1="375.30" x2="703.80" y2="375.30" stroke="#000" stroke-width="1.0" />
<line x1="659.50" y1="198.50" x2="659.50" y2="375.30" stroke="#000" stroke-width="1.0" />
<polygon points="659.50,198.50 661.65,208.30 657.35,208.30" fill="#000"/>
<polygon points="659.50,375.30 657.35,365.50 661.65,365.50" fill="#000"/>
<g transform="translate(657.60,297.20) rotate(-90.00)">
<text class="b" x="-0.78" y="0.00" font-size="14.5" font-weight="bold" textLength="20.43" lengthAdjust="spacingAndGlyphs">75</text>
</g>
<line x1="727.30" y1="365.00" x2="727.30" y2="466.30" stroke="#000" stroke-width="1.0" />
<line x1="777.00" y1="365.00" x2="777.00" y2="466.30" stroke="#000" stroke-width="1.0" />
<line x1="717.40" y1="461.30" x2="787.20" y2="461.30" stroke="#000" stroke-width="1.0" />
<polygon points="727.30,461.30 717.50,463.45 717.50,459.15" fill="#000"/>
<polygon points="777.00,461.30 786.80,459.15 786.80,463.45" fill="#000"/>
<text class="b" x="730.71" y="459.20" font-size="14.5" font-weight="bold" textLength="45.55" lengthAdjust="spacingAndGlyphs">G1/2"</text>
<text class="b" x="735.10" y="475.60" font-size="14.5" font-weight="bold" textLength="31.26" lengthAdjust="spacingAndGlyphs">HOT</text>
<path d="M698.90,198.50 L704.00,198.50 L704.00,375.30 L698.90,375.30 Z" stroke="#000" stroke-width="1.1" fill="none" />
<line x1="698.90" y1="217.50" x2="704.00" y2="217.50" stroke="#000" stroke-width="1.0" />
<line x1="698.90" y1="356.50" x2="704.00" y2="356.50" stroke="#000" stroke-width="1.0" />
<path d="M704.00,230.40 L789.00,230.40 L793.30,227.70" stroke="#000" stroke-width="1.3" fill="none" />
<path d="M790.00,230.60 L793.50,227.40 L803.40,227.40 L803.40,230.60 Z" stroke="#222" stroke-width="0.5" fill="#222" />
<line x1="803.40" y1="228.20" x2="847.00" y2="228.20" stroke="#555" stroke-width="1.5" />
<path d="M704.00,343.50 L719.30,343.50" stroke="#000" stroke-width="1.2" fill="none" />
<path d="M798.20,343.50 L847.00,343.50" stroke="#000" stroke-width="1.2" fill="none" />
<path d="M704.00,258.00 L716.30,258.00 L716.30,256.20 L780.90,256.20" stroke="#000" stroke-width="1.2" fill="none" />
<line x1="752.00" y1="230.40" x2="752.00" y2="256.20" stroke="#000" stroke-width="1.8" />
<line x1="716.50" y1="232.40" x2="745.70" y2="232.40" stroke="#444" stroke-width="0.8" />
<path d="M704.00,315.10 L716.50,315.10 L716.50,317.10 L804.00,317.10" stroke="#000" stroke-width="1.2" fill="none" />
<path d="M716.50,341.40 L745.30,341.40 L745.30,343.50 L752.00,343.50 L752.00,317.10" stroke="#000" stroke-width="1.6" fill="none" />
<path d="M719.30,341.40 L719.30,360.00 L721.00,362.10 L783.50,362.10 L785.20,360.00 L785.20,337.00" stroke="#000" stroke-width="1.2" fill="none" />
<line x1="720.00" y1="360.30" x2="784.50" y2="360.30" stroke="#000" stroke-width="0.8" />
<path d="M781.30,334.00 L798.20,343.50" stroke="#000" stroke-width="1.2" fill="none" />
<path d="M706.5,258.5 A9.3,9.3 0 1 0 723.7,258.5" stroke="#000" stroke-width="1.8" fill="none" />
<line x1="723.90" y1="256.30" x2="723.90" y2="264.50" stroke="#000" stroke-width="1.6" />
<path d="M723.9,264.5 L729,267.5" stroke="#000" stroke-width="1.4" fill="none" />
<path d="M709.8,257 L709.8,262.5 L712.3,266.3 L717.9,266.3 L720.4,262.5 L720.4,257" stroke="#000" stroke-width="1.2" fill="none" />
<path d="M741,257.4 A30,30 0 0 0 745.5,317.0" stroke="#000" stroke-width="1.5" fill="none" />
<path d="M743.5,259.6 A27.6,27.6 0 0 0 747.5,316.6" stroke="#000" stroke-width="1.4" fill="none" />
<path d="M721.4,306.6 Q724.5,313 731.6,316.8" stroke="#000" stroke-width="1.1" fill="none" />
<line x1="718.00" y1="290.30" x2="718.00" y2="317.10" stroke="#666" stroke-width="3.0" />
<path d="M704,258 L704,286.5 Q704.2,290.2 708,290.2 L716.5,290.2" stroke="#000" stroke-width="1.5" fill="none" />
<line x1="704.00" y1="315.00" x2="704.00" y2="343.50" stroke="#000" stroke-width="1.6" />
<line x1="704.00" y1="230.40" x2="704.00" y2="258.00" stroke="#000" stroke-width="1.5" />
<line x1="722.80" y1="306.50" x2="722.80" y2="317.10" stroke="#000" stroke-width="0.9" />
<line x1="749.90" y1="256.20" x2="749.90" y2="317.10" stroke="#555" stroke-width="1.3" />
<line x1="797.20" y1="256.20" x2="797.20" y2="317.10" stroke="#555" stroke-width="0.9" />
<path d="M780.9,256.2 L798,256.2 Q804.2,255.5 804.2,249 L804.2,230" stroke="#000" stroke-width="1.7" fill="none" />
<path d="M770,317.1 L798,317.1 Q804.2,318 804.2,324 L804.2,343.5" stroke="#000" stroke-width="1.6" fill="none" />
<line x1="804.20" y1="256.00" x2="804.20" y2="320.00" stroke="#000" stroke-width="1.3" />
<line x1="814.80" y1="229.00" x2="814.80" y2="343.00" stroke="#000" stroke-width="2.0" />
<line x1="820.70" y1="229.00" x2="820.70" y2="343.00" stroke="#000" stroke-width="2.4" />
<line x1="824.00" y1="229.00" x2="824.00" y2="343.00" stroke="#000" stroke-width="2.0" />
<line x1="841.20" y1="236.50" x2="841.20" y2="336.80" stroke="#555" stroke-width="3.2" />
<line x1="824.00" y1="236.50" x2="847.00" y2="236.50" stroke="#000" stroke-width="1.1" />
<line x1="824.00" y1="336.80" x2="847.00" y2="336.80" stroke="#000" stroke-width="1.1" />
<line x1="804.20" y1="233.40" x2="814.80" y2="233.40" stroke="#000" stroke-width="1.0" />
<line x1="804.20" y1="339.50" x2="814.80" y2="339.50" stroke="#000" stroke-width="1.0" />
<line x1="814.80" y1="233.00" x2="824.00" y2="233.00" stroke="#444" stroke-width="1.0" />
<line x1="814.80" y1="339.60" x2="824.00" y2="339.60" stroke="#444" stroke-width="1.0" />
<path d="M752.00,248.10 L765.00,248.10" stroke="#000" stroke-width="1.0" fill="none" />
<line x1="762.90" y1="233.00" x2="762.90" y2="256.20" stroke="#000" stroke-width="1.0" />
<path d="M752,233 L762.5,233 Q766,236 767.5,240 L767.5,252 L770,256" stroke="#000" stroke-width="1.0" fill="none" />
<path d="M767.5,238.5 L772,238.5 Q780.9,239 780.9,247 L780.9,256.2" stroke="#000" stroke-width="1.1" fill="none" />
<line x1="770.00" y1="245.00" x2="770.00" y2="254.00" stroke="#777" stroke-width="2.2" />
<line x1="774.50" y1="245.00" x2="774.50" y2="256.20" stroke="#000" stroke-width="1.0" />
<line x1="768.00" y1="245.00" x2="778.00" y2="245.00" stroke="#000" stroke-width="1.0" />
<path d="M752.00,325.90 L765.00,325.90" stroke="#000" stroke-width="1.0" fill="none" />
<line x1="762.90" y1="317.10" x2="762.90" y2="341.00" stroke="#000" stroke-width="1.0" />
<path d="M752,341 L762.5,341 L767.5,335.5 L767.5,322 L770,318" stroke="#000" stroke-width="1.0" fill="none" />
<path d="M767.5,335.5 L781.3,334" stroke="#000" stroke-width="1.0" fill="none" />
<line x1="770.00" y1="320.00" x2="770.00" y2="333.00" stroke="#777" stroke-width="2.2" />
<line x1="774.50" y1="318.00" x2="774.50" y2="334.00" stroke="#000" stroke-width="1.0" />
<path d="M776,317.5 Q790,330 803,318.5" stroke="#000" stroke-width="1.0" fill="none" />
<path d="M779,317.5 Q790,326 800,317.8" stroke="#000" stroke-width="1.4" fill="none" />
</svg>
</body></html>
